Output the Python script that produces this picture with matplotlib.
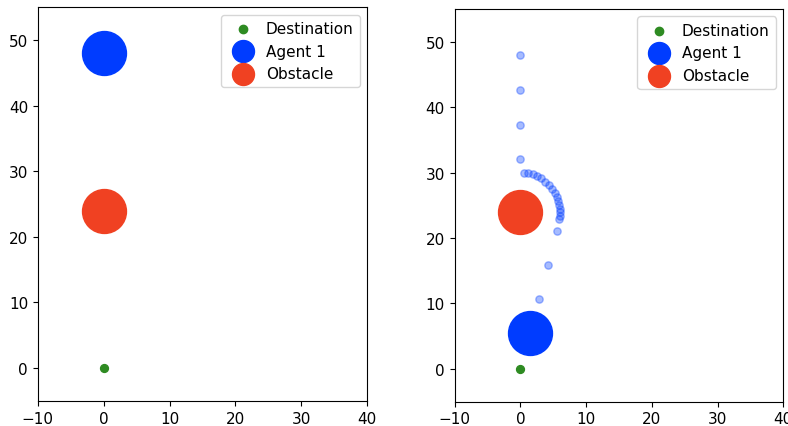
import matplotlib
matplotlib.use("Agg")
import matplotlib.pyplot as plt

# positions
destination = (0, 0)
obstacle = (0, 24)
agent_start = (0, 48)
agent_end = (1.5, 5.5)

path_x = [0, 0, 0, 0, 0.5, 1.2, 1.9, 2.6, 3.2, 3.8, 4.3, 4.8, 5.2, 5.5, 5.7,
          5.9, 6.0, 6.0, 6.0, 5.9, 5.5, 4.2, 2.8]
path_y = [48, 42.6, 37.3, 32, 30.0, 29.9, 29.7, 29.4, 29.1, 28.6, 28.1, 27.5,
          26.9, 26.3, 25.7, 25.1, 24.5, 23.9, 23.3, 22.9, 21.0, 15.9, 10.7]

green = '#2e8b22'
blue = '#003cff'
red = '#f04122'

fig = plt.figure(figsize=(7.88, 4.27), dpi=100)
ax1 = fig.add_axes([0.048, 0.059, 0.418, 0.922])
ax2 = fig.add_axes([0.577, 0.057, 0.417, 0.92])


def draw(ax, agent, path=None):
    if path is not None:
        ax.scatter(path[0], path[1], s=28, color=blue, alpha=0.35)
    ax.scatter([destination[0]], [destination[1]], s=32, color=green, label='Destination')
    ax.scatter([agent[0]], [agent[1]], s=1000, color=blue, label='Agent 1')
    ax.scatter([obstacle[0]], [obstacle[1]], s=1000, color=red, label='Obstacle')
    ax.set_xlim(-10, 40)
    ax.set_ylim(-5, 55)
    leg = ax.legend(loc='upper right', fontsize=11, handletextpad=0.5)
    for h, s in zip(leg.legend_handles, [36, 250, 250]):
        h.set_sizes([s])


draw(ax1, agent_start)
draw(ax2, agent_end, (path_x, path_y))

for ax in (ax1, ax2):
    ax.tick_params(labelsize=11)

fig.savefig('out.png', dpi=100)
